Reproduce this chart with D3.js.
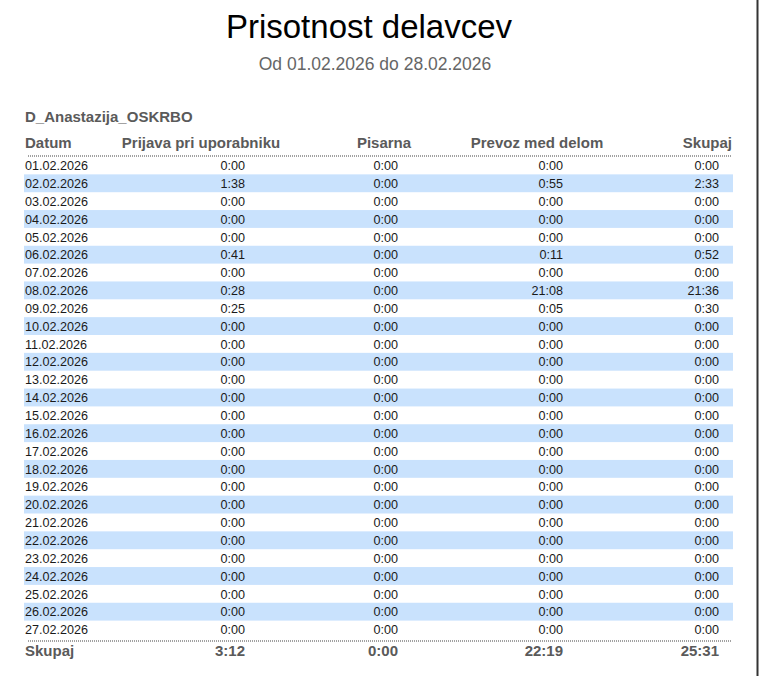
<!DOCTYPE html>
<html>
<head>
<meta charset="utf-8">
<script src="https://cdn.jsdelivr.net/npm/d3@7"></script>
<style>
  html, body { margin: 0; padding: 0; background: #fff; }
  svg { display: block; font-family: Arial, "Liberation Sans", sans-serif; }
</style>
</head>
<body>
<svg id="report"></svg>
<script>
const width = 759;
const height = 676;

// Report data
const title = 'Prisotnost delavcev';
const subtitle = 'Od 01.02.2026 do 28.02.2026';
const employee = 'D_Anastazija_OSKRBO';
const columns = ['Datum', 'Prijava pri uporabniku', 'Pisarna', 'Prevoz med delom', 'Skupaj'];

const dates = ['01.02.2026', '02.02.2026', '03.02.2026', '04.02.2026', '05.02.2026', '06.02.2026',
    '07.02.2026', '08.02.2026', '09.02.2026', '10.02.2026', '11.02.2026', '12.02.2026',
    '13.02.2026', '14.02.2026', '15.02.2026', '16.02.2026', '17.02.2026', '18.02.2026',
    '19.02.2026', '20.02.2026', '21.02.2026', '22.02.2026', '23.02.2026', '24.02.2026',
    '25.02.2026', '26.02.2026', '27.02.2026'];
const prijava = ['0:00', '1:38', '0:00', '0:00', '0:00', '0:41', '0:00', '0:28', '0:25',
    '0:00', '0:00', '0:00', '0:00', '0:00', '0:00', '0:00', '0:00', '0:00',
    '0:00', '0:00', '0:00', '0:00', '0:00', '0:00', '0:00', '0:00', '0:00'];
const pisarna = ['0:00', '0:00', '0:00', '0:00', '0:00', '0:00', '0:00', '0:00', '0:00',
    '0:00', '0:00', '0:00', '0:00', '0:00', '0:00', '0:00', '0:00', '0:00',
    '0:00', '0:00', '0:00', '0:00', '0:00', '0:00', '0:00', '0:00', '0:00'];
const prevoz = ['0:00', '0:55', '0:00', '0:00', '0:00', '0:11', '0:00', '21:08', '0:05',
    '0:00', '0:00', '0:00', '0:00', '0:00', '0:00', '0:00', '0:00', '0:00',
    '0:00', '0:00', '0:00', '0:00', '0:00', '0:00', '0:00', '0:00', '0:00'];
const skupaj = ['0:00', '2:33', '0:00', '0:00', '0:00', '0:52', '0:00', '21:36', '0:30',
    '0:00', '0:00', '0:00', '0:00', '0:00', '0:00', '0:00', '0:00', '0:00',
    '0:00', '0:00', '0:00', '0:00', '0:00', '0:00', '0:00', '0:00', '0:00'];
const totalsLabel = 'Skupaj';
const totals = ['3:12', '0:00', '22:19', '25:31'];

const rows = dates.map((d, i) => ({ date: d, vals: [prijava[i], pisarna[i], prevoz[i], skupaj[i]] }));

// Layout
const left = 24, right = 733;
const tableTop = 156.5;
const rowH = 17.85;

const svg = d3.select('#report')
    .attr('width', width)
    .attr('height', height);

svg.append('rect').attr('width', width).attr('height', height).attr('fill', '#fff');

// page edge on the right
svg.append('line')
    .attr('x1', 757.5).attr('x2', 757.5)
    .attr('y1', 0).attr('y2', height)
    .attr('stroke', '#333').attr('stroke-width', 2);

// Titles
svg.append('text')
    .attr('x', 369).attr('y', 38)
    .attr('text-anchor', 'middle')
    .attr('font-size', 33)
    .attr('fill', '#000')
    .text(title);

svg.append('text')
    .attr('x', 375).attr('y', 70)
    .attr('text-anchor', 'middle')
    .attr('font-size', 17.5)
    .attr('fill', '#666')
    .text(subtitle);

svg.append('text')
    .attr('x', 25).attr('y', 122)
    .attr('font-size', 15)
    .attr('font-weight', 'bold')
    .attr('fill', '#5a5a5a')
    .text(employee);

// Row scale
const y = d3.scaleBand()
    .domain(d3.range(rows.length))
    .range([tableTop, tableTop + rowH * rows.length])
    .padding(0);

// header positions: [x, anchor]
const headerPos = [[25, 'start'], [201, 'middle'], [384, 'middle'], [537, 'middle'], [732, 'end']];
// value columns are right aligned
const valueX = [245, 398, 563, 719];

svg.append('g').selectAll('text')
    .data(columns)
    .join('text')
    .attr('x', (d, i) => headerPos[i][0])
    .attr('y', 148)
    .attr('text-anchor', (d, i) => headerPos[i][1])
    .attr('font-size', 15)
    .attr('font-weight', 'bold')
    .attr('fill', '#5a5a5a')
    .text(d => d);

// striped bands (even days)
svg.append('g').selectAll('rect')
    .data(rows.filter((d, i) => i % 2 === 1))
    .join('rect')
    .attr('x', left)
    .attr('y', d => y(rows.indexOf(d)))
    .attr('width', right - left)
    .attr('height', y.bandwidth())
    .attr('fill', '#c9e2fd');

// dotted rules
[156, 641].forEach(yy => {
    svg.append('line')
        .attr('x1', 28).attr('x2', 732)
        .attr('y1', yy).attr('y2', yy)
        .attr('stroke', '#444')
        .attr('stroke-width', 1.2)
        .attr('stroke-dasharray', '1,1');
});

// body rows
const rowG = svg.append('g').selectAll('g')
    .data(rows)
    .join('g')
    .attr('transform', (d, i) => `translate(0,${y(i) + 13.6})`);

rowG.append('text')
    .attr('x', 25)
    .attr('font-size', 12.6)
    .attr('fill', '#1a1a1a')
    .text(d => d.date);

rowG.selectAll('text.val')
    .data(d => d.vals)
    .join('text')
    .attr('class', 'val')
    .attr('x', (d, i) => valueX[i])
    .attr('text-anchor', 'end')
    .attr('font-size', 12.6)
    .attr('fill', '#1a1a1a')
    .text(d => d);

// totals row
svg.append('text')
    .attr('x', 25).attr('y', 656)
    .attr('font-size', 15)
    .attr('font-weight', 'bold')
    .attr('fill', '#5a5a5a')
    .text(totalsLabel);

svg.append('g').selectAll('text')
    .data(totals)
    .join('text')
    .attr('x', (d, i) => valueX[i])
    .attr('y', 656)
    .attr('text-anchor', 'end')
    .attr('font-size', 15)
    .attr('font-weight', 'bold')
    .attr('fill', '#5a5a5a')
    .text(d => d);
</script>
</body>
</html>
